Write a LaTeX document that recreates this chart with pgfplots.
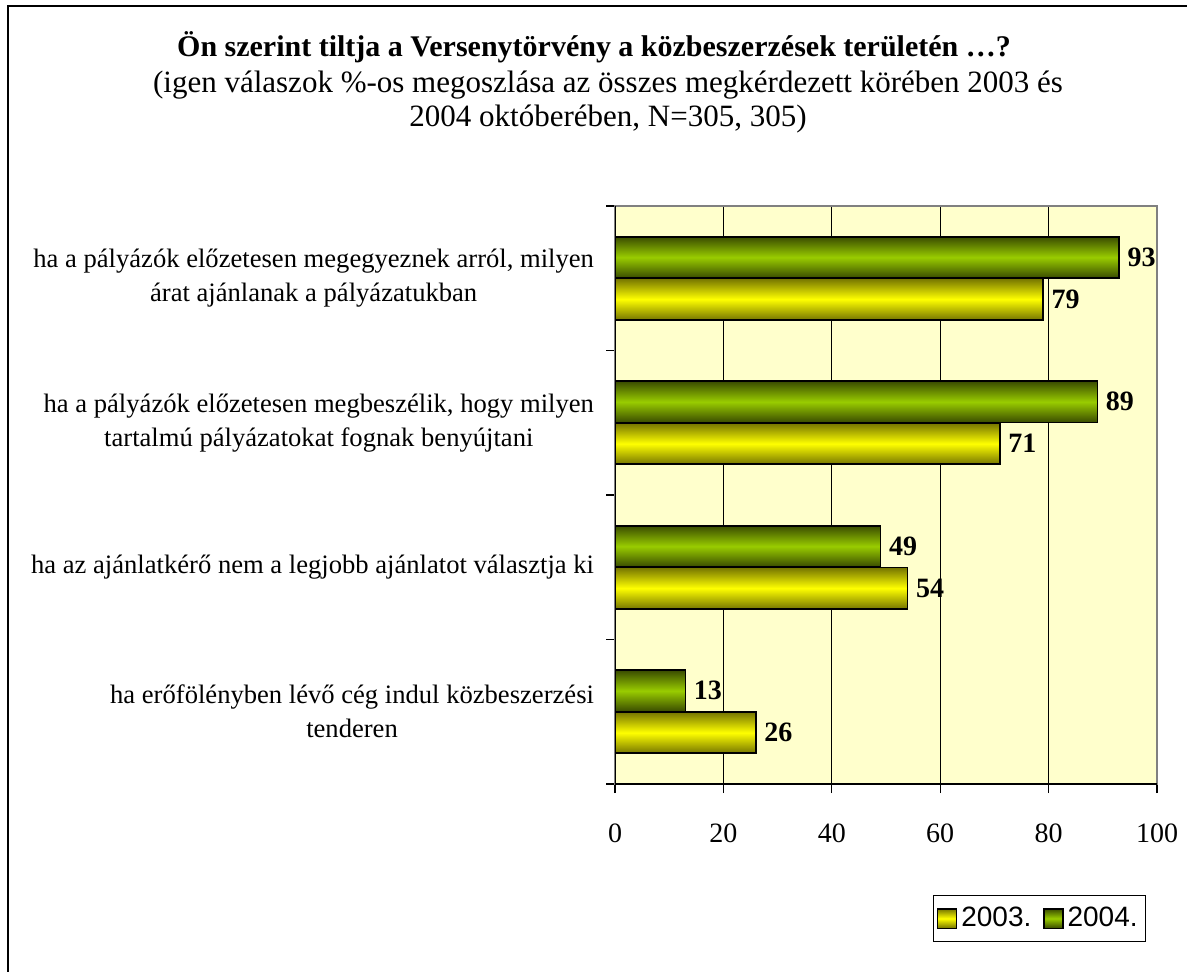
\documentclass[border=0pt]{standalone}
\usepackage{pgfplots}
\pgfplotsset{compat=1.18}
\usepackage{fontspec}
\setmainfont{Liberation Serif}
\newfontfamily\arial{Liberation Sans}
\definecolor{bgy}{HTML}{FFFFCC}
\definecolor{grn}{HTML}{99CC00}
\definecolor{grnd}{HTML}{3A4C00}
\definecolor{yel}{HTML}{FFFF00}
\definecolor{yeld}{HTML}{767600}
\begin{document}
\begin{tikzpicture}
\path[use as bounding box] (0pt,0pt) rectangle (593.5pt,-486pt);
\draw[black, line width=0.8pt] (4pt,-486pt) -- (4pt,-3pt) -- (593.5pt,-3pt);
\node[font=\fontsize{15}{18}\selectfont\bfseries] at (297pt,-23.5pt) {Ön szerint tiltja a Versenytörvény a közbeszerzések területén …?};
\node[font=\fontsize{15.5}{17}\selectfont, align=center] at (304pt,-51pt) {(igen válaszok \%-os megoszlása az összes megkérdezett körében 2003 és\\2004 októberében, N=305, 305)};
\begin{axis}[
  at={(307.5pt,-392pt)}, anchor=south west,
  scale only axis, width=271pt, height=289pt,
  xmin=0, xmax=100, ymin=-0.5, ymax=3.5,
  xtick={0,20,40,60,80,100},
  xtick pos=bottom,
  ytick={-0.5,0.5,1.5,2.5,3.5}, yticklabels={},
  ytick pos=left,
  tick align=outside,
  major tick length=4.5pt,
  tick style={black, line width=0.6pt},
  xmajorgrids,
  grid style={black, line width=0.4pt},
  axis line style={gray, line width=0.8pt},
  axis background/.style={fill=bgy},
  /pgf/number format/assume math mode=true,
  xticklabel style={font=\fontsize{14}{16}\selectfont, yshift=-12pt},
  extra y ticks={0,1,2,3},
  extra y tick labels={{ha erőfölényben lévő cég indul közbeszerzési\\tenderen},{ha az ajánlatkérő nem a legjobb ajánlatot választja ki},{ha a pályázók előzetesen megbeszélik, hogy milyen\\tartalmú pályázatokat fognak benyújtani},{ha a pályázók előzetesen megegyeznek arról, milyen\\árat ajánlanak a pályázatukban}},
  extra y tick style={major tick length=0pt, yticklabel style={align=center, anchor=east, xshift=-7pt, font=\fontsize{13.3}{17}\selectfont}},
  xbar, bar width=0.284,
  nodes near coords,
  every node near coord/.append style={font=\fontsize{14}{16}\selectfont\bfseries, black, anchor=west, xshift=0.5pt},
  legend columns=2,
  legend style={at={(0.783,-0.2327)}, anchor=center, draw=black, line width=0.6pt, font=\arial\fontsize{14}{16}\selectfont, inner xsep=2pt, inner ysep=4pt, /tikz/every even column/.append style={column sep=4pt}},
  legend image code/.code={\draw[#1, draw=black, line width=0.6pt] (0pt,-4.8pt) rectangle (9.5pt,4.8pt);},
  ystyle/.style={draw=black, line width=0.8pt, bar shift=-0.145, top color=yeld, bottom color=yeld, middle color=yel},
  gstyle/.style={draw=black, line width=0.8pt, bar shift=0.145, top color=grnd, bottom color=grnd, middle color=grn},
]
\addplot[ystyle] coordinates {(26,0)};
\addlegendentry{2003.}
\addplot[gstyle] coordinates {(13,0)};
\addlegendentry{2004.}
\addplot[ystyle, forget plot] coordinates {(54,1)};
\addplot[ystyle, forget plot] coordinates {(71,2)};
\addplot[ystyle, forget plot] coordinates {(79,3)};
\addplot[gstyle, forget plot] coordinates {(49,1)};
\addplot[gstyle, forget plot] coordinates {(89,2)};
\addplot[gstyle, forget plot] coordinates {(93,3)};
\draw[black, line width=0.8pt] (axis cs:0,3.5) -- (axis cs:0,-0.5) -- (axis cs:100,-0.5);
\end{axis}
\end{tikzpicture}
\end{document}
